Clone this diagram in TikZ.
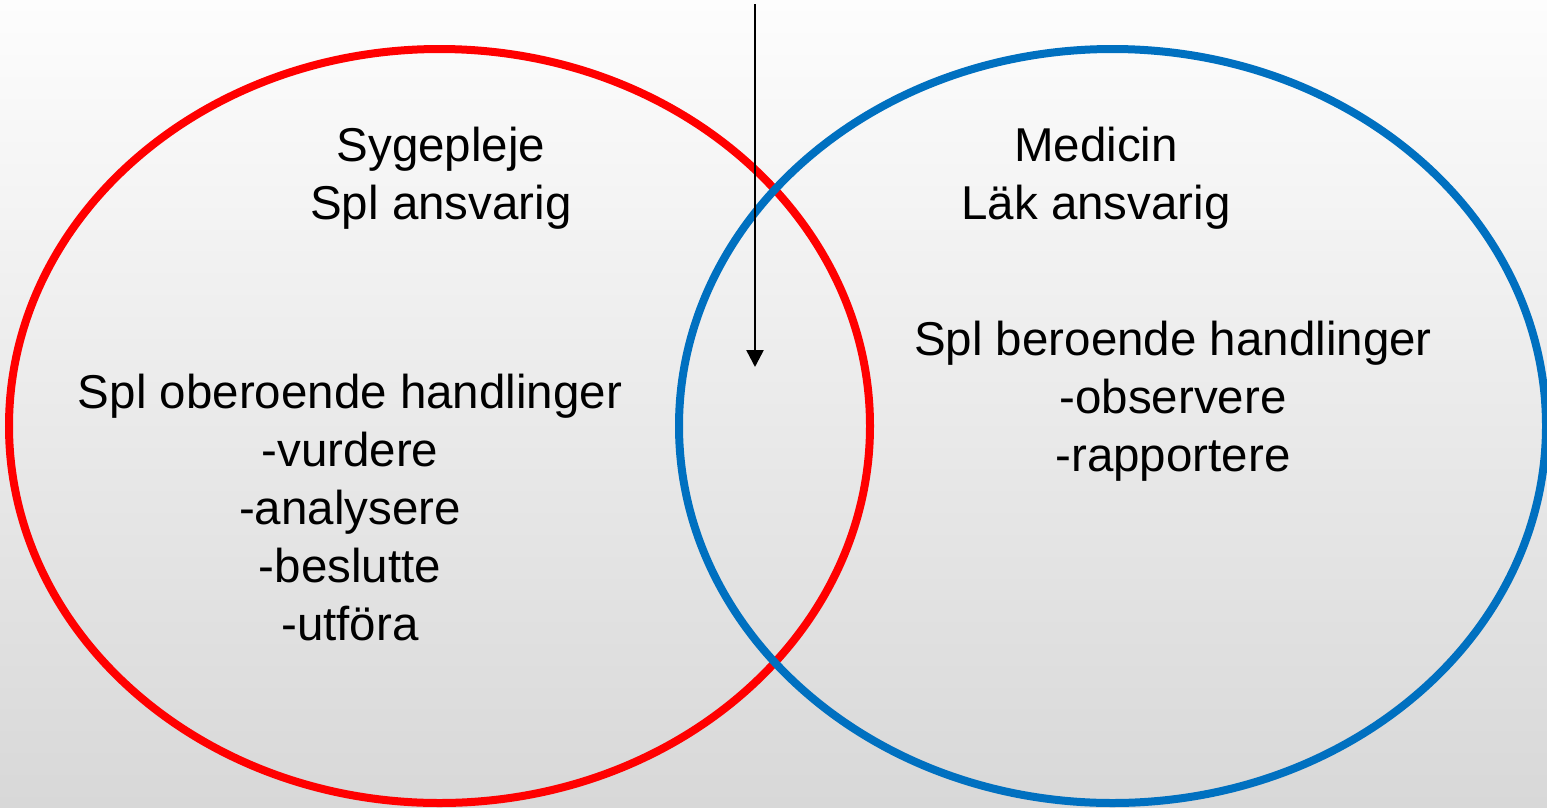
\documentclass[tikz,border=0pt]{standalone}
\usepackage{fontspec}
\setmainfont{Liberation Sans}
\usetikzlibrary{shapes.geometric,arrows.meta}
\definecolor{bgtop}{RGB}{253,253,253}
\definecolor{bgbot}{RGB}{216,216,216}
\definecolor{redline}{RGB}{255,0,0}
\definecolor{blueline}{RGB}{0,112,192}
\tikzset{
  ring/.style={ellipse, draw, line width=8pt, inner sep=0pt, minimum width=#1},
  label/.style={font=\fontsize{47.5}{58}\selectfont, align=center, inner sep=0pt, anchor=base},
  pointer/.style={line width=2.5pt, -{Triangle[length=17pt,width=17pt]}}
}
\begin{document}
\begin{tikzpicture}[x=1pt,y=-1pt]
\shade[top color=bgtop, bottom color=bgbot] (0,0) rectangle (1547,807);
\useasboundingbox (0,0) rectangle (1547,807);
\node[ring=861pt, minimum height=754pt, draw=redline] (red) at (439.5,426) {};
\node[ring=867pt, minimum height=754pt, draw=blueline] (blue) at (1112.5,426) {};
\node[label] (sy) at (441,219) {Sygepleje\\Spl ansvarig};
\node[label] (me) at (1096,219) {Medicin\\Läk ansvarig};
\node[label] (ob) at (350,640) {Spl oberoende handlinger\\-vurdere\\-analysere\\-beslutte\\-utföra};
\node[label] (be) at (1173,471) {Spl beroende handlinger\\-observere\\-rapportere};
\coordinate (atop) at (755,4);
\coordinate (atip) at (755,367);
\draw[pointer] (atop) -- (atip);
\end{tikzpicture}
\end{document}
